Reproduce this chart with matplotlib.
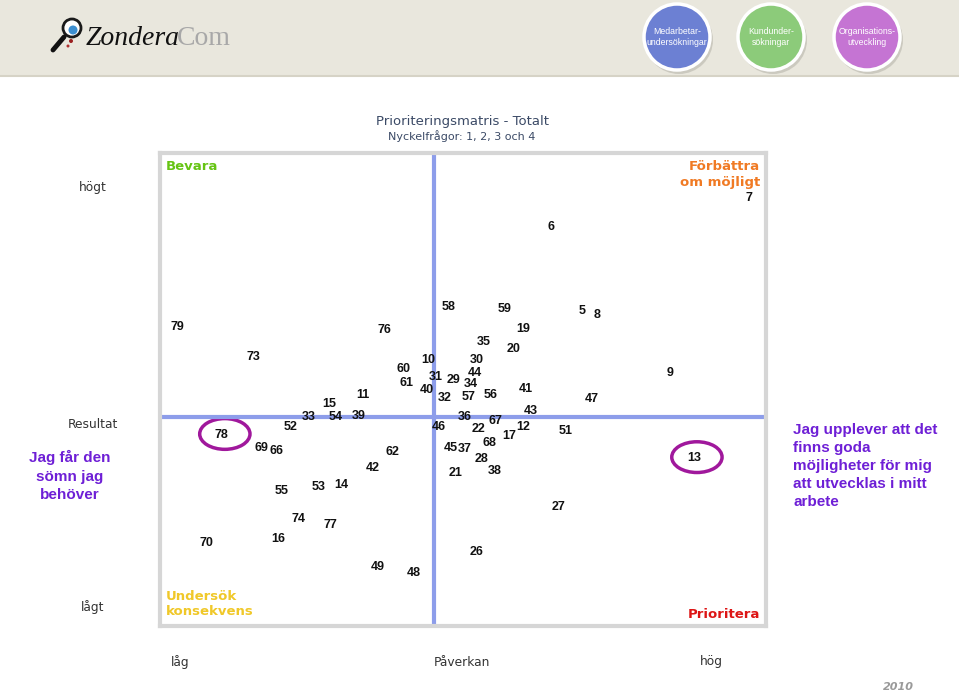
import matplotlib
matplotlib.use('Agg')
import matplotlib.pyplot as plt
from matplotlib.patches import Ellipse, Circle, Rectangle
from matplotlib.lines import Line2D

# ---------------- data ----------------
question_ids = [79, 76, 73, 58, 59, 5, 8, 19, 35, 20,
                10, 30, 60, 44, 61, 31, 29, 34, 40, 11,
                32, 57, 56, 41, 47, 9, 15, 43, 33, 54,
                39, 36, 67, 52, 46, 22, 12, 51, 78, 17,
                68, 69, 66, 45, 37, 62, 13, 28, 42, 21,
                38, 55, 53, 14, 27, 74, 77, 70, 16, 26,
                49, 48, 6, 7]
paverkan = [2.8, 37.1, 15.5, 47.7, 56.9, 69.6, 72.1, 59.9, 53.5, 58.3,
            44.2, 52.3, 40.1, 52.0, 40.6, 45.5, 48.5, 51.3, 44.1, 33.5,
            46.9, 51.0, 54.6, 60.4, 71.3, 84.2, 27.9, 61.2, 24.6, 29.0,
            32.8, 50.3, 55.3, 21.6, 46.0, 52.6, 59.9, 67.0, 10.2, 57.6,
            54.3, 16.7, 19.3, 48.0, 50.3, 38.4, 88.1, 53.1, 35.1, 48.7,
            55.3, 20.1, 26.1, 30.0, 65.7, 22.9, 28.1, 7.6, 19.5, 52.3,
            36.0, 41.9, 64.5, 97.2]
resultat = [63.2, 62.6, 56.9, 67.4, 67.0, 66.6, 65.8, 62.8, 60.0, 58.6,
            56.2, 56.2, 54.3, 53.5, 51.4, 52.6, 52.0, 51.2, 49.9, 48.8,
            48.2, 48.4, 48.8, 50.1, 48.0, 53.5, 46.9, 45.5, 44.2, 44.2,
            44.4, 44.2, 43.3, 42.1, 42.1, 41.6, 42.1, 41.2, 40.4, 40.2,
            38.7, 37.6, 37.0, 37.6, 37.4, 36.8, 35.5, 35.3, 33.4, 32.3,
            32.8, 28.5, 29.4, 29.8, 25.2, 22.6, 21.4, 17.5, 18.4, 15.6,
            12.5, 11.2, 84.4, 90.5]
highlighted = [78, 13]
x_split = 45.2   # Påverkan divider
y_split = 44.2   # Resultat divider

title = "Prioriteringsmatris - Totalt"
subtitle = "Nyckelfrågor: 1, 2, 3 och 4"
quadrants = {"tl": "Bevara", "tr": "Förbättra\nom möjligt",
             "bl": "Undersök\nkonsekvens", "br": "Prioritera"}
y_labels = ["högt", "Resultat", "lågt"]
x_labels = ["låg", "Påverkan", "hög"]
left_question = "Jag får den\nsömn jag\nbehöver"
right_question = "Jag upplever att det\nfinns goda\nmöjligheter för mig\natt utvecklas i mitt\narbete"
header_buttons = ["Medarbetar-\nundersökningar", "Kundunder-\nsökningar", "Organisations-\nutveckling"]
year = "2010"

# ---------------- figure ----------------
W, H = 959, 693
fig = plt.figure(figsize=(W / 100, H / 100), dpi=100)
fig.patch.set_facecolor('white')

bg = fig.add_axes([0, 0, 1, 1])
bg.set_xlim(0, W)
bg.set_ylim(H, 0)
bg.axis('off')

# header band
bg.add_patch(Rectangle((0, 0), W, 76, facecolor='#e9e7dd', edgecolor='none'))
bg.add_line(Line2D([0, W], [76, 76], color='#d6d3c6', lw=1.5))

# logo: magnifier
bg.add_line(Line2D([64, 53], [37, 50], color='#111111', lw=3.5, solid_capstyle='round'))
bg.add_patch(Circle((72, 28), 9, facecolor='white', edgecolor='#1a1a1a', lw=2))
bg.add_patch(Circle((73, 30), 4.5, facecolor='#3d8fd0', edgecolor='none'))
bg.add_patch(Circle((71, 41), 2, facecolor='#9b2020', edgecolor='none'))
bg.add_patch(Circle((68, 46), 1.5, facecolor='#b03030', edgecolor='none'))
logo = bg.text(86, 45, "Zondera", fontsize=20, family='Liberation Serif',
               style='italic', color='#111111', ha='left', va='baseline')
bg.annotate("Com", xy=(1, 0), xycoords=logo, xytext=(-2, 0), textcoords='offset points',
            fontsize=20, family='Liberation Serif', color='#a8a8a8',
            ha='left', va='bottom')

# header buttons
btn_colors = ['#6c80d3', '#8ccb7a', '#c574d3']
btn_x = [677, 771, 867]
for cx, col, lab in zip(btn_x, btn_colors, header_buttons):
    bg.add_patch(Circle((cx + 2, 40), 34, facecolor='#b8b6ac', edgecolor='none', alpha=0.6))
    bg.add_patch(Circle((cx, 37), 33, facecolor=col, edgecolor='white', lw=2.5))
    bg.text(cx, 37, lab, ha='center', va='center', fontsize=6.3, color='white',
            family='Liberation Sans', linespacing=1.2)

# titles
bg.text(462, 121, title, ha='center', va='center', fontsize=9.5, color='#3b4a66',
        family='DejaVu Sans')
bg.text(462, 136, subtitle, ha='center', va='center', fontsize=8, color='#3b4a66',
        family='DejaVu Sans')

# outside axis labels
for lab, yy in zip(y_labels, [188, 425, 607]):
    bg.text(93, yy, lab, ha='center', va='center', fontsize=8.8, color='#333333',
            family='DejaVu Sans')
for lab, xx in zip(x_labels, [180, 462, 711]):
    bg.text(xx, 662, lab, ha='center', va='center', fontsize=8.8, color='#333333',
            family='DejaVu Sans')

purple = '#6e1fd6'
bg.text(70, 476, left_question, ha='center', va='center', fontsize=11, color=purple,
        fontweight='bold', family='Liberation Sans', linespacing=1.38)
bg.text(793, 466, right_question, ha='left', va='center', fontsize=11, color=purple,
        fontweight='bold', family='Liberation Sans', linespacing=1.36)

bg.text(898, 687, year, ha='center', va='center', fontsize=8, color='#9a9a9a',
        style='italic', fontweight='bold', family='DejaVu Sans')

# ---------------- matrix axes ----------------
fl, fr, ft, fb = 160, 766, 153, 626
ax = fig.add_axes([fl / W, (H - fb) / H, (fr - fl) / W, (fb - ft) / H])
ax.set_xlim(0, 100)
ax.set_ylim(0, 100)
ax.set_xticks([])
ax.set_yticks([])
for sp in ax.spines.values():
    sp.set_color('#d6d6d6')
    sp.set_linewidth(3)
ax.axvline(x_split, color='#8d9dea', lw=3)
ax.axhline(y_split, color='#8d9dea', lw=3)

for qid, px, ry in zip(question_ids, paverkan, resultat):
    ax.text(px, ry, str(qid), ha='center', va='center', fontsize=9,
            fontweight='bold', color='#111111', family='Liberation Sans')
    if qid in highlighted:
        ax.add_patch(Ellipse((px + 0.5, ry + 0.2), 8.3, 6.5, facecolor='none',
                             edgecolor='#a0189c', lw=2.5))

qfont = dict(fontsize=9.5, fontweight='bold', family='DejaVu Sans', linespacing=1.25)
ax.text(0.01, 0.972, quadrants["tl"], transform=ax.transAxes, ha='left', va='center',
        color='#66c414', **qfont)
ax.text(0.99, 0.955, quadrants["tr"], transform=ax.transAxes, ha='right', va='center',
        color='#f07a24', **qfont)
ax.text(0.01, 0.047, quadrants["bl"], transform=ax.transAxes, ha='left', va='center',
        color='#f0c829', **qfont)
ax.text(0.99, 0.025, quadrants["br"], transform=ax.transAxes, ha='right', va='center',
        color='#dd1515', **qfont)

fig.savefig('out.png', dpi=100)
